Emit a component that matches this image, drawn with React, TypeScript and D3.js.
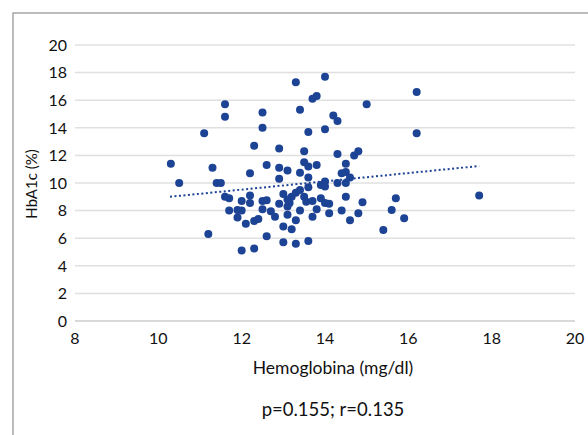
import { useMemo } from "react";
import { scaleLinear } from "d3";

const WIDTH = 588;
const HEIGHT = 435;
const PLOT = { left: 75, right: 575, top: 45, bottom: 321 };

// Hemoglobina (mg/dl) vs HbA1c (%)
const hemoglobina = [
  10.3, 10.5, 11.1, 11.3, 11.4, 11.5, 11.6, 11.6, 11.6, 11.7, 11.7, 11.9, 12.0, 11.9, 12.1, 11.2, 12.0, 12.0,
  12.2, 12.2, 12.2, 12.3, 12.5, 12.5, 12.3, 12.4, 12.3, 12.6, 12.5, 12.6, 12.5, 12.7, 12.8, 12.6, 12.9, 12.9,
  12.9, 12.9, 13.0, 13.0, 13.0, 13.1, 13.1, 13.1, 13.2, 13.1, 13.15, 13.2, 13.3, 13.3, 13.3, 13.3, 13.4, 13.4,
  13.4, 13.4, 13.5, 13.5, 13.5, 13.55, 13.6, 13.6, 13.6, 13.6, 13.6, 13.7, 13.8, 13.7, 13.7, 13.8, 13.8, 13.9,
  13.9, 14.0, 14.0, 14.0, 14.0, 14.0, 14.1, 14.1, 14.2, 14.3, 14.3, 14.3, 14.4, 14.4, 14.5, 14.5, 14.5, 14.5,
  14.6, 14.6, 14.7, 14.8, 14.8, 14.9, 15.0, 15.4, 15.6, 15.7, 15.9, 16.2, 16.2, 17.7
];
const hba1c = [
  11.4, 10.0, 13.6, 11.1, 10.0, 10.0, 15.7, 14.8, 9.0, 8.9, 8.0, 8.05, 8.0, 7.5, 7.05, 6.3, 5.1, 8.7,
  10.7, 9.1, 8.55, 12.7, 15.1, 14.0, 7.25, 7.4, 5.25, 11.3, 8.7, 8.75, 8.1, 7.95, 7.55, 6.15, 12.5, 11.1,
  10.3, 8.5, 9.2, 6.85, 5.7, 10.9, 8.3, 7.7, 9.0, 8.8, 8.55, 6.65, 9.3, 7.3, 5.6, 17.3, 15.3, 10.75,
  9.5, 8.0, 12.3, 11.5, 9.0, 8.65, 11.2, 10.4, 9.7, 13.7, 5.8, 16.1, 16.3, 8.7, 7.55, 11.3, 8.1, 8.9,
  9.85, 10.1, 9.75, 17.7, 13.9, 8.55, 8.5, 7.8, 14.9, 14.5, 12.1, 10.0, 10.7, 8.0, 11.4, 10.8, 10.0, 9.0,
  10.4, 7.3, 12.0, 12.3, 7.8, 8.6, 15.7, 6.6, 8.05, 8.9, 7.45, 16.6, 13.6, 9.1
];

// linear trendline
const trendRange = [10.28, 17.7];
const trendSlope = 0.3;
const trendIntercept = 5.92;

const xTicks = [8, 10, 12, 14, 16, 18, 20];
const yTicks = [0, 2, 4, 6, 8, 10, 12, 14, 16, 18, 20];

const xTitle = "Hemoglobina (mg/dl)";
const yTitle = "HbA1c  (%)";
const statsText = "p=0.155; r=0.135";

const BLUE = "#1c4394";
const FONT = "Lato, 'Open Sans', sans-serif";

export default function App() {
  const x = useMemo(() => scaleLinear().domain([8, 20]).range([PLOT.left, PLOT.right]), []);
  const y = useMemo(() => scaleLinear().domain([0, 20]).range([PLOT.bottom, PLOT.top]), []);

  const points = hemoglobina.map((value, index) => ({ x: value, y: hba1c[index] }));
  const centerX = 333;

  return (
    <svg
      width={WIDTH}
      height={HEIGHT}
      viewBox={`0 0 ${WIDTH} ${HEIGHT}`}
      style={{ position: "absolute", left: 0, top: 0, background: "#fff" }}
      fontFamily={FONT}
    >
      <rect x={13} y={13} width={WIDTH + 20} height={HEIGHT + 20} fill="#fff" stroke="#a6a6a6" strokeWidth={1.5} />
      {yTicks.map((tick) => (
        <g key={tick}>
          <line
            x1={PLOT.left}
            x2={PLOT.right}
            y1={y(tick)}
            y2={y(tick)}
            stroke={tick === 0 ? "#cccccc" : "#e0e0e0"}
            strokeWidth={1.5}
          />
          <text x={67} y={y(tick)} dy="0.36em" textAnchor="end" fontSize={16} fill="#111">
            {tick}
          </text>
        </g>
      ))}
      {xTicks.map((tick) => (
        <text key={tick} x={x(tick)} y={338} dy="0.36em" textAnchor="middle" fontSize={16} fill="#111">
          {tick}
        </text>
      ))}
      {points.map((point, index) => (
        <circle key={index} cx={x(point.x)} cy={y(point.y)} r={4} fill={BLUE} />
      ))}
      <line
        x1={x(trendRange[0])}
        x2={x(trendRange[1])}
        y1={y(trendIntercept + trendSlope * trendRange[0])}
        y2={y(trendIntercept + trendSlope * trendRange[1])}
        stroke={BLUE}
        strokeWidth={2}
        strokeDasharray="2 2.5"
      />
      <text
        transform={`translate(32, 184) rotate(-90)`}
        dy="0.36em"
        textAnchor="middle"
        fontSize={15}
        fill="#111"
      >
        {yTitle}
      </text>
      <text x={centerX} y={368} dy="0.36em" textAnchor="middle" fontSize={17.5} fill="#111">
        {xTitle}
      </text>
      <text x={centerX} y={409} dy="0.36em" textAnchor="middle" fontSize={18.5} fill="#111">
        {statsText}
      </text>
    </svg>
  );
}
